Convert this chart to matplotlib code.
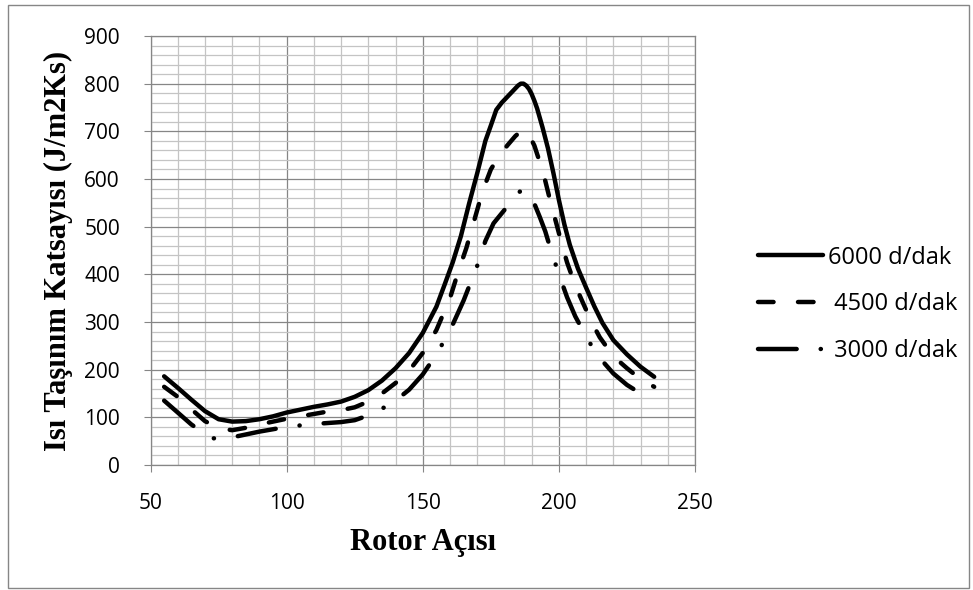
import matplotlib.pyplot as plt
from matplotlib.patches import Rectangle
from matplotlib.ticker import MultipleLocator

# rotor angle (deg) and heat transfer coefficient
angle_6000 = [55, 60, 65, 70, 75, 80, 85, 90, 95, 100, 105, 110, 115, 120, 125, 130,
              135, 140, 145, 150, 155, 158, 161, 164, 167, 170, 173, 175, 177, 179,
              181, 183, 184, 185, 186, 187, 188, 189, 190, 191, 192, 194, 196, 198,
              200, 202, 204, 207, 210, 213, 216, 220, 225, 230, 235]
htc_6000 = [186, 162, 137, 113, 96, 91, 92, 96, 102, 110, 116, 122, 127, 133, 143, 157,
            177, 203, 235, 277, 332, 378, 425, 480, 548, 612, 680, 712, 745, 760,
            772, 784, 790, 796, 800, 800, 796, 789, 778, 764, 748, 708, 664, 612,
            556, 505, 462, 412, 372, 333, 298, 262, 232, 206, 185]

angle_4500 = [55, 60, 65, 70, 75, 80, 85, 90, 95, 100, 105, 110, 115, 120, 125, 130,
              135, 140, 145, 150, 155, 160, 163, 166, 169, 172, 175, 178, 181, 184,
              186, 187, 188, 189, 191, 193, 195, 197, 199, 201, 203, 206, 209, 212,
              215, 220, 225, 230, 235]
htc_4500 = [164, 143, 117, 92, 77, 73, 78, 85, 91, 97, 102, 107, 112, 115, 121, 133,
            150, 172, 198, 235, 283, 350, 405, 455, 515, 575, 620, 648, 670, 690,
            700, 703, 700, 693, 670, 635, 596, 550, 508, 465, 425, 377, 338, 300,
            268, 228, 203, 180, 164]

angle_3000 = [55, 60, 65, 70, 73, 76, 80, 85, 90, 95, 100, 105, 110, 115, 120, 125,
              130, 135, 140, 145, 150, 155, 160, 165, 170, 173, 176, 180, 184, 186,
              187, 188, 189, 191, 193, 195, 197, 200, 203, 206, 209, 212, 216, 220,
              225, 230, 235]
htc_3000 = [135, 110, 85, 65, 56, 55, 58, 64, 70, 75, 80, 83, 86, 88, 90, 94,
            104, 118, 135, 158, 190, 232, 282, 345, 418, 470, 507, 535, 566, 575,
            577, 575, 570, 548, 520, 490, 452, 400, 352, 312, 280, 250, 218, 192,
            168, 150, 138]

labels = ['6000 d/dak', ' 4500 d/dak', ' 3000 d/dak']

fig = plt.figure(figsize=(9.73, 5.9), dpi=100)
ax = fig.add_axes([0.1547, 0.2119, 0.5596, 0.7271])

lw = 3.2
ax.plot(angle_6000, htc_6000, color='black', lw=lw, solid_capstyle='round',
        solid_joinstyle='round', label=labels[0])
ax.plot(angle_4500, htc_4500, color='black', lw=lw, dashes=(3.5, 5.5),
        dash_capstyle='round', dash_joinstyle='round', label=labels[1])
ax.plot(angle_3000, htc_3000, color='black', lw=lw, dashes=(8.7, 5.4, 0.05, 5.4),
        dash_capstyle='round', dash_joinstyle='round', label=labels[2])

ax.set_xlim(50, 250)
ax.set_ylim(0, 900)
ax.xaxis.set_major_locator(MultipleLocator(50))
ax.xaxis.set_minor_locator(MultipleLocator(10))
ax.yaxis.set_major_locator(MultipleLocator(100))
ax.yaxis.set_minor_locator(MultipleLocator(20))
ax.grid(which='major', color='#868686', lw=0.9)
ax.grid(which='minor', color='#c4c4c4', lw=0.9)
ax.set_axisbelow(True)
for s in ax.spines.values():
    s.set_color('#868686')
    s.set_linewidth(0.9)
ax.tick_params(which='major', length=5, color='#868686', labelsize=15)
ax.tick_params(which='minor', length=0)
ax.tick_params(axis='y', pad=17)
ax.tick_params(axis='x', pad=15)
for t in ax.get_xticklabels() + ax.get_yticklabels():
    t.set_fontfamily('Open Sans')

ax.set_xlabel('Rotor Açısı', fontfamily='Liberation Serif', fontweight='bold',
              fontsize=22, labelpad=10)
ax.set_ylabel('Isı Taşınım Katsayısı (J/m2Ks)', fontfamily='Liberation Serif',
              fontweight='bold', fontsize=22, labelpad=8)

fig.legend(loc='center left', bbox_to_anchor=(0.767, 0.484), frameon=False,
           borderpad=0, handlelength=2.75, handletextpad=0.2, labelspacing=0.97,
           prop={'family': 'Open Sans', 'size': 17})

fig.patches.append(Rectangle((0.008, 0.004), 0.988, 0.988, transform=fig.transFigure,
                             fill=False, edgecolor='#868686', lw=1))

fig.savefig('out.png', dpi=100)
